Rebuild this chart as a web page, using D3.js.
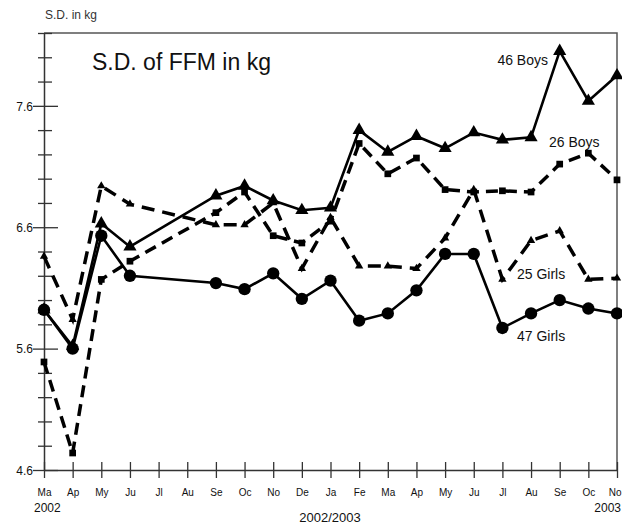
<!DOCTYPE html>
<html>
<head>
<meta charset="utf-8">
<script src="https://cdn.jsdelivr.net/npm/d3@7"></script>
<style>
  body { margin: 0; background: #fff; }
  text { font-family: "Liberation Sans", Arial, sans-serif; fill: #111; }
</style>
</head>
<body>
<div class="main"></div>
<script>
// months Mar 2002 .. Nov 2003
const months = ["Ma", "Ap", "My", "Ju", "Jl", "Au", "Se", "Oc", "No", "De", "Ja",
                "Fe", "Ma", "Ap", "My", "Ju", "Jl", "Au", "Se", "Oc", "No"];

// null = no measurement that month (Jul/Aug 2002)
const boys46  = [5.92, 5.62, 6.63, 6.44, null, null, 6.86, 6.94, 6.82, 6.74, 6.76,
                 7.40, 7.22, 7.35, 7.25, 7.38, 7.32, 7.34, 8.05, 7.64, 7.85];
const boys26  = [5.49, 4.74, 6.17, 6.32, null, null, 6.72, 6.89, 6.53, 6.47, 6.65,
                 7.29, 7.04, 7.17, 6.91, 6.89, 6.90, 6.89, 7.12, 7.21, 6.99];
const girls25 = [6.36, 5.84, 6.94, 6.79, null, null, 6.62, 6.62, 6.80, 6.26, 6.68,
                 6.28, 6.28, 6.26, 6.51, 6.91, 6.17, 6.49, 6.57, 6.17, 6.18];
const girls47 = [5.92, 5.60, 6.53, 6.20, null, null, 6.14, 6.09, 6.22, 6.01, 6.16,
                 5.83, 5.89, 6.08, 6.38, 6.38, 5.77, 5.89, 6.00, 5.93, 5.89];

const majorTicks = [4.6, 5.6, 6.6, 7.6];
const minorTicks = d3.range(0, 19).map(i => +(4.6 + i * 0.2).toFixed(1));

const width = 622, height = 526;
const x0 = 44, x1 = 617, yTop = 33, yBot = 470;

const svg = d3.select(".main").append("svg")
    .attr("width", width)
    .attr("height", height);

const x = d3.scaleLinear().domain([0, months.length - 1]).range([x0, x1]);
const y = d3.scaleLinear().domain([4.6, 8.2]).range([yBot, yTop]);

// frame: top and right lines
svg.append("path")
    .attr("d", `M${x0},${yTop}H${x1}V${yBot}`)
    .attr("fill", "none")
    .attr("stroke", "#555")
    .attr("stroke-width", 1.5);

// y axis, minor ticks cross the axis line
const yAxis = svg.append("g")
    .attr("transform", `translate(${x0},0)`)
    .call(d3.axisLeft(y).tickValues(minorTicks).tickSize(0).tickFormat(""));
yAxis.select(".domain").attr("stroke", "#333").attr("stroke-width", 1.5);
yAxis.selectAll(".tick line")
    .attr("x1", d => majorTicks.includes(d) ? -11 : -6)
    .attr("x2", d => majorTicks.includes(d) ? 14 : 8)
    .attr("stroke", "#333")
    .attr("stroke-width", 1.3);
yAxis.selectAll(".tick").filter(d => majorTicks.includes(d))
    .append("text")
    .attr("x", -11)
    .attr("dy", "0.35em")
    .attr("text-anchor", "end")
    .style("font-size", "12px")
    .text(d => d.toFixed(1));

// x axis
const last = months.length - 1;
const xAxis = svg.append("g")
    .attr("transform", `translate(0,${yBot})`)
    .call(d3.axisBottom(x).tickValues(d3.range(months.length))
        .tickSize(0).tickFormat(""));
xAxis.select(".domain").attr("stroke", "#333").attr("stroke-width", 1.5);
xAxis.selectAll(".tick line")
    .attr("y1", -8)
    .attr("y2", 8)
    .attr("stroke", "#333")
    .attr("stroke-width", 1.3);
xAxis.selectAll(".tick")
    .append("text")
    .attr("y", 26)
    // last label sits at the right edge, keep it inside
    .attr("x", d => d === last ? 4 : 0)
    .attr("text-anchor", d => d === last ? "end" : "middle")
    .style("font-size", "10px")
    .text(d => months[d]);

svg.append("text").attr("x", x0 - 10).attr("y", 512)
    .style("font-size", "12px").text("2002");
svg.append("text").attr("x", 621).attr("y", 512).attr("text-anchor", "end")
    .style("font-size", "12px").text("2003");
svg.append("text").attr("x", 330).attr("y", 522).attr("text-anchor", "middle")
    .style("font-size", "13px").text("2002/2003");

svg.append("text").attr("x", 45).attr("y", 19)
    .style("font-size", "12px").style("fill", "#333").text("S.D. in kg");
svg.append("text").attr("x", 92).attr("y", 70)
    .style("font-size", "23px").text("S.D. of FFM in kg");

// series
const series = [
    { name: "46 Boys",  values: boys46,  dash: null,   marker: "triangle", size: 75 },
    { name: "26 Boys",  values: boys26,  dash: "12,7", marker: "square",   size: 45 },
    { name: "25 Girls", values: girls25, dash: "13,8", marker: "triangle", size: 30 },
    { name: "47 Girls", values: girls47, dash: null,   marker: "circle",   size: 120 }
];

const line = d3.line().x(d => x(d.i)).y(d => y(d.v));
const symbolType = { triangle: d3.symbolTriangle, square: d3.symbolSquare, circle: d3.symbolCircle };

series.forEach(s => {
    const pts = s.values.map((v, i) => ({ i, v })).filter(d => d.v !== null);
    svg.append("path")
        .datum(pts)
        .attr("d", line)
        .attr("fill", "none")
        .attr("stroke", "#000")
        .attr("stroke-width", s.dash ? 3.5 : 2.6)
        .attr("stroke-dasharray", s.dash);
    svg.selectAll(null)
        .data(pts)
        .enter().append("path")
        .attr("transform", d => `translate(${x(d.i)},${y(d.v)})`)
        .attr("d", d3.symbol().type(symbolType[s.marker]).size(s.size))
        .attr("fill", "#000");
});

// series labels
const labels = [
    { text: "46 Boys",  x: 548, y: 65 },
    { text: "26 Boys",  x: 549, y: 147 },
    { text: "25 Girls", x: 517, y: 279 },
    { text: "47 Girls", x: 517, y: 341 }
];
svg.selectAll(".lab")
    .data(labels)
    .enter().append("text")
    .attr("class", "lab")
    .attr("x", d => d.x)
    .attr("y", d => d.y)
    .attr("text-anchor", d => d.text === "46 Boys" ? "end" : "start")
    .style("font-size", "14px")
    .text(d => d.text);
</script>
</body>
</html>
